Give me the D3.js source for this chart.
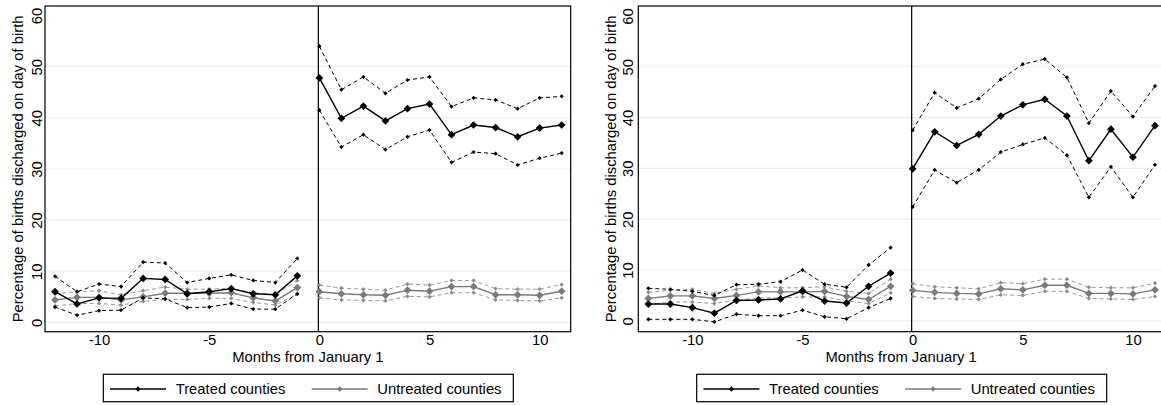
<!DOCTYPE html>
<html>
<head>
<meta charset="utf-8">
<script src="https://cdn.jsdelivr.net/npm/d3@7"></script>
<style>
  html, body { margin: 0; padding: 0; background: #fff; }
  svg { display: block; font-family: "Liberation Sans", Arial, sans-serif; }
</style>
</head>
<body>
<svg id="chart" width="1161" height="405"></svg>
<script>
// ---------------- data ----------------
const months = [-12,-11,-10,-9,-8,-7,-6,-5,-4,-3,-2,-1,0,1,2,3,4,5,6,7,8,9,10,11];
const xTicks = [-10, -5, 0, 5, 10];
const yTicks = [0, 10, 20, 30, 40, 50, 60];
const gridTicks = [0, 10, 20, 30, 40, 50];

// Left panel, treated counties
const treatedL   = [6.0,3.6,4.8,4.7,8.6,8.4,5.6,6.0,6.6,5.6,5.4,9.1, 47.8,39.9,42.3,39.4,41.8,42.7,36.7,38.6,38.1,36.3,38.0,38.6];
const treatedLHi = [9.0,6.0,7.5,7.0,11.8,11.6,7.8,8.6,9.3,8.2,7.8,12.5, 54.0,45.5,48.0,44.8,47.4,48.0,42.2,43.9,43.5,41.8,43.9,44.2];
const treatedLLo = [3.0,1.4,2.3,2.4,4.8,4.6,2.9,3.0,3.7,2.6,2.6,5.6, 41.5,34.3,36.7,33.8,36.3,37.6,31.3,33.3,33.0,30.8,32.1,33.1];

// Right panel, treated counties
const treatedR   = [3.3,3.3,2.6,1.5,4.0,4.1,4.3,5.9,3.9,3.5,6.8,9.4, 29.9,37.2,34.5,36.7,40.3,42.5,43.6,40.3,31.5,37.7,32.2,38.4];
const treatedRHi = [6.4,6.2,5.8,5.0,7.1,7.2,7.7,10.0,7.2,6.6,11.0,14.4, 37.5,44.9,41.9,43.7,47.5,50.5,51.5,47.9,38.9,45.2,40.2,46.2];
const treatedRLo = [0.3,0.3,0.3,-0.2,1.3,1.0,1.0,2.1,0.8,0.4,2.6,4.4, 22.4,29.7,27.2,29.7,33.2,34.7,36.0,32.6,24.3,30.3,24.3,30.7];

// Untreated counties (both panels)
const untreated   = [4.4,4.9,4.9,4.4,5.0,5.7,5.7,5.7,5.8,4.8,4.2,6.8, 6.0,5.6,5.4,5.3,6.3,6.1,7.0,7.0,5.4,5.4,5.3,6.1];
const untreatedHi = [5.6,6.0,6.2,5.4,6.2,6.9,6.5,6.5,6.7,5.8,5.4,8.2, 7.3,6.7,6.5,6.3,7.5,7.3,8.2,8.2,6.6,6.5,6.5,7.4];
const untreatedLo = [3.2,3.7,3.7,3.4,4.1,4.5,4.5,4.7,4.7,3.9,3.4,5.5, 4.8,4.4,4.3,4.2,5.1,5.0,5.8,5.8,4.4,4.3,4.2,4.8];

const legendLabels = ["Treated counties", "Untreated counties"];
const xTitle = "Months from January 1";
const yTitle = "Percentage of births discharged on day of birth";

// ---------------- layout ----------------
const svg = d3.select("#chart");
const FONT = 14.8;
const TOP = 6, BOTTOM = 331.7;
const BLACK = "#000", GREY = "#7a7a7a", GREY_CI = "#9a9a9a";

const panels = [
  { x0: 45,    x1: 570.7, yDom: [-1.82, 61.87], tickBase: 41.7,  titleBase: 22.6,
    legendX: 103.3, tr: treatedL, trHi: treatedLHi, trLo: treatedLLo },
  { x0: 638.3, x1: 1164,  yDom: [-2.14, 61.95], tickBase: 633.3, titleBase: 615.7,
    legendX: 696.7, tr: treatedR, trHi: treatedRHi, trLo: treatedRLo }
];

const diamond = (size) => d3.symbol(d3.symbolSquare, size);
const fmt = d => String(d);

panels.forEach(p => {
  const x = d3.scaleLinear().domain([-12.455, 11.41]).range([p.x0, p.x1]);
  const y = d3.scaleLinear().domain(p.yDom).range([BOTTOM, TOP]);
  const g = svg.append("g");

  // gridlines
  g.selectAll(".grid").data(gridTicks).enter().append("line")
    .attr("x1", p.x0).attr("x2", p.x1)
    .attr("y1", d => y(d)).attr("y2", d => y(d))
    .attr("stroke", "#e6eff1").attr("stroke-width", 1.2);

  // vertical line at 0
  g.append("line")
    .attr("x1", x(0) - 1).attr("x2", x(0) - 1)
    .attr("y1", TOP).attr("y2", BOTTOM)
    .attr("stroke", "#000").attr("stroke-width", 1.2);

  // series drawing
  const line = d3.line().x(d => x(d[0])).y(d => y(d[1]));
  function drawSeries(vals, color, width, dash, mSize, mColor) {
    const pts = months.map((m, i) => [m, vals[i]]);
    const pre = pts.filter(d => d[0] < 0), post = pts.filter(d => d[0] >= 0);
    [pre, post].forEach(seg => {
      g.append("path").attr("d", line(seg))
        .attr("fill", "none").attr("stroke", color)
        .attr("stroke-width", width)
        .attr("stroke-dasharray", dash || null);
    });
    g.selectAll(null).data(pts).enter().append("path")
      .attr("d", diamond(mSize)())
      .attr("transform", d => `translate(${x(d[0])},${y(d[1])}) rotate(45)`)
      .attr("fill", mColor);
  }

  drawSeries(untreatedHi, GREY_CI, 1, "4,3", 9, "#8a8a8a");
  drawSeries(untreatedLo, GREY_CI, 1, "4,3", 9, "#8a8a8a");
  drawSeries(untreated, GREY, 1.4, null, 30, GREY);
  drawSeries(p.trHi, BLACK, 1, "4,3", 9, BLACK);
  drawSeries(p.trLo, BLACK, 1, "4,3", 9, BLACK);
  drawSeries(p.tr, BLACK, 1.4, null, 30, BLACK);

  // frame
  g.append("rect")
    .attr("x", p.x0).attr("y", TOP)
    .attr("width", p.x1 - p.x0).attr("height", BOTTOM - TOP)
    .attr("fill", "none").attr("stroke", "#000").attr("stroke-width", 1.2);

  // y axis
  const ya = g.append("g").attr("transform", `translate(${p.x0},0)`)
    .call(d3.axisLeft(y).tickValues(yTicks).tickSize(0).tickFormat(fmt));
  ya.select(".domain").remove();
  ya.selectAll("text")
    .attr("x", null).attr("dy", null)
    .attr("transform", `translate(${p.tickBase - p.x0},0) rotate(-90)`)
    .attr("text-anchor", "middle")
    .attr("font-size", FONT).attr("font-family", "Liberation Sans, Arial, sans-serif")
    .attr("fill", "#000");

  // x axis
  const xa = g.append("g").attr("transform", `translate(0,${BOTTOM})`)
    .call(d3.axisBottom(x).tickValues(xTicks).tickSize(0).tickFormat(fmt));
  xa.select(".domain").remove();
  xa.selectAll("text")
    .attr("y", 13.8).attr("dy", null)
    .attr("font-size", FONT).attr("font-family", "Liberation Sans, Arial, sans-serif")
    .attr("fill", "#000");

  // axis titles
  g.append("text")
    .attr("x", (p.x0 + p.x1) / 2).attr("y", 362)
    .attr("text-anchor", "middle").attr("font-size", FONT)
    .text(xTitle);
  g.append("text")
    .attr("transform", `translate(${p.titleBase},${(TOP + BOTTOM) / 2}) rotate(-90)`)
    .attr("text-anchor", "middle").attr("font-size", FONT)
    .text(yTitle);

  // legend
  const lg = g.append("g").attr("transform", `translate(${p.legendX},374.3)`);
  lg.append("rect").attr("x", 0).attr("y", 0).attr("width", 410).attr("height", 27.4)
    .attr("fill", "#fff").attr("stroke", "#000").attr("stroke-width", 1.2);
  const items = [
    { label: legendLabels[0], color: BLACK, lx: 6.7, tx: 72.4 },
    { label: legendLabels[1], color: GREY, lx: 208.4, tx: 274 }
  ];
  items.forEach(it => {
    lg.append("line").attr("x1", it.lx).attr("x2", it.lx + 56)
      .attr("y1", 14.7).attr("y2", 14.7)
      .attr("stroke", it.color).attr("stroke-width", 1.4);
    lg.append("path").attr("d", diamond(14)())
      .attr("transform", `translate(${it.lx + 28},14.7) rotate(45)`)
      .attr("fill", it.color);
    lg.append("text").attr("x", it.tx).attr("y", 19.7)
      .attr("font-size", FONT).text(it.label);
  });
});
</script>
</body>
</html>
